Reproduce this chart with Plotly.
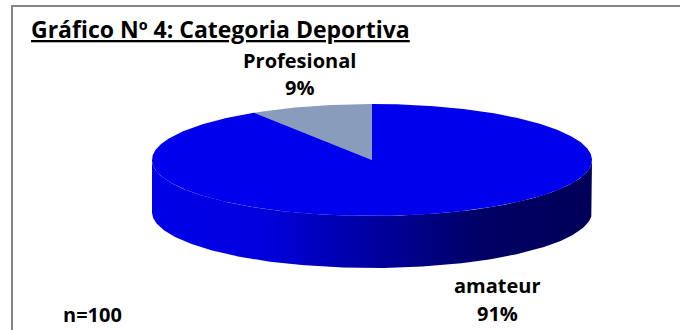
import numpy as np
import plotly.graph_objects as go

# ---- data ----
categories = ["amateur", "Profesional"]
values = [91, 9]
slice_colors = ["rgb(0,0,236)", "rgb(137,156,188)"]
title_text = "Gráfico Nº 4: Categoria Deportiva"
n_text = "n=100"

# ---- geometry (pixel space of the 680x330 canvas) ----
W, H = 680, 330
cx, cy, rx, ry, depth = 372, 160, 220, 56, 52

def ell(theta_deg, dy=0.0):
    t = np.radians(theta_deg)
    return cx + rx * np.cos(t), cy - ry * np.sin(t) + dy

fig = go.Figure()

# side (front rim) of the 3D pie
th_front = np.linspace(180, 360, 200)
xs_top, ys_top = ell(th_front)
xs_bot, ys_bot = ell(th_front[::-1], depth)
fig.add_trace(go.Scatter(
    x=np.concatenate([xs_top, xs_bot, xs_top[:1]]),
    y=np.concatenate([ys_top, ys_bot, ys_top[:1]]),
    mode="lines", line=dict(width=0), fill="toself",
    fillgradient=dict(type="horizontal", colorscale=[
        [0.0, "rgb(0,0,232)"], [0.25, "rgb(0,0,222)"], [0.5, "rgb(0,0,160)"],
        [0.75, "rgb(0,0,100)"], [1.0, "rgb(0,0,88)"]]),
    hoverinfo="skip", showlegend=False))

# top slices: Profesional starts at 12 o'clock going counter-clockwise
total = sum(values)
start = 90.0
order = [1, 0]
for i in order:
    span = values[i] / total * 360.0
    th = np.linspace(start, start + span, max(int(span * 2), 4))
    xa, ya = ell(th)
    fig.add_trace(go.Scatter(
        x=np.concatenate([[cx], xa, [cx]]),
        y=np.concatenate([[cy], ya, [cy]]),
        mode="lines", line=dict(width=0, color=slice_colors[i]),
        fill="toself", fillcolor=slice_colors[i],
        name=categories[i], hoverinfo="name", showlegend=False))
    start += span

font_family = "'Open Sans', sans-serif"

# frame
fig.add_shape(type="rect", x0=12, y0=6, x1=W + 20, y1=H + 20,
              line=dict(color="rgb(134,134,134)", width=2), layer="below")

# labels: (name position, percent position)
label_pos = {"Profesional": ((299, 60), (299, 87)), "amateur": ((497, 285), (497, 313))}
for c, v in zip(categories, values):
    (x1, y1), (x2, y2) = label_pos[c]
    fig.add_annotation(x=x1, y=y1, text=f"<b>{c}</b>", showarrow=False,
                       font=dict(family=font_family, size=20, color="black"),
                       xanchor="center", yanchor="middle")
    fig.add_annotation(x=x2, y=y2, text=f"<b>{v}%</b>", showarrow=False,
                       font=dict(family=font_family, size=20, color="black"),
                       xanchor="center", yanchor="middle")

fig.add_annotation(x=29, y=29, text=f"<b><u>{title_text}</u></b>", showarrow=False,
                   xanchor="left", yanchor="middle",
                   font=dict(family=font_family, size=23, color="black"))
fig.add_annotation(x=92, y=314, text=f"<b>{n_text}</b>", showarrow=False,
                   xanchor="center", yanchor="middle",
                   font=dict(family=font_family, size=20, color="black"))

fig.update_layout(
    width=W, height=H, margin=dict(l=0, r=0, t=0, b=0),
    paper_bgcolor="white", plot_bgcolor="white",
    xaxis=dict(range=[0, W], visible=False, fixedrange=True),
    yaxis=dict(range=[H, 0], visible=False, fixedrange=True),
)
fig.write_html("out.html")
